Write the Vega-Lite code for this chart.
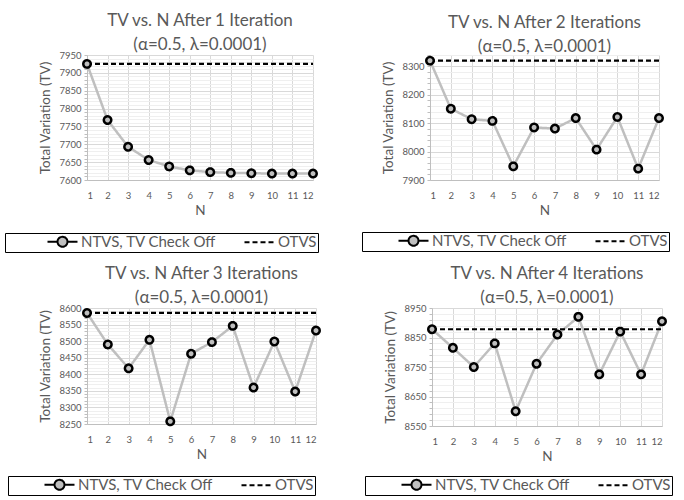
{
  "$schema": "https://vega.github.io/schema/vega-lite/v6.json",
  "background": "white",
  "padding": {"left": 4, "top": 12, "right": 5, "bottom": 1},
  "spacing": 12,
  "resolve": {"scale": {"strokeDash": "independent"}},
  "config": {
    "font": "Lato",
    "view": {"stroke": null},
    "concat": {"spacing": 39},
    "title": {"fontSize": 17, "fontWeight": "normal", "color": "#595959", "lineHeight": 24, "offset": -4},
    "axis": {
      "labelFontSize": 9.5, "labelColor": "#595959", "titleFontSize": 13.5, "titleFontWeight": "normal",
      "titleColor": "#595959", "domainColor": "#bfbfbf", "tickColor": "#bfbfbf", "domainWidth": 1
    },
    "legend": {"labelFontSize": 15, "labelColor": "#595959", "strokeColor": "#000000", "padding": 1,
               "orient": "none", "direction": "horizontal", "titleOrient": "left", "titleFontSize": 2,
               "symbolSize": 144, "labelOffset": 20, "columnPadding": 23,
               "symbolStrokeColor": "#000000", "symbolStrokeWidth": 2}
  },
  "datasets": {
    "p1": [
      {"N": 1, "TV": 7925, "series": "NTVS, TV Check Off"}, {"N": 2, "TV": 7768, "series": "NTVS, TV Check Off"},
      {"N": 3, "TV": 7693, "series": "NTVS, TV Check Off"}, {"N": 4, "TV": 7656, "series": "NTVS, TV Check Off"},
      {"N": 5, "TV": 7638, "series": "NTVS, TV Check Off"}, {"N": 6, "TV": 7627, "series": "NTVS, TV Check Off"},
      {"N": 7, "TV": 7622, "series": "NTVS, TV Check Off"}, {"N": 8, "TV": 7620, "series": "NTVS, TV Check Off"},
      {"N": 9, "TV": 7619, "series": "NTVS, TV Check Off"}, {"N": 10, "TV": 7618, "series": "NTVS, TV Check Off"},
      {"N": 11, "TV": 7618, "series": "NTVS, TV Check Off"}, {"N": 12, "TV": 7618, "series": "NTVS, TV Check Off"},
      {"N": 1, "TV": 7925, "series": "OTVS"}, {"N": 12, "TV": 7925, "series": "OTVS"}
    ],
    "p2": [
      {"N": 1, "TV": 8320, "series": "NTVS, TV Check Off"}, {"N": 2, "TV": 8151, "series": "NTVS, TV Check Off"},
      {"N": 3, "TV": 8114, "series": "NTVS, TV Check Off"}, {"N": 4, "TV": 8108, "series": "NTVS, TV Check Off"},
      {"N": 5, "TV": 7948, "series": "NTVS, TV Check Off"}, {"N": 6, "TV": 8085, "series": "NTVS, TV Check Off"},
      {"N": 7, "TV": 8081, "series": "NTVS, TV Check Off"}, {"N": 8, "TV": 8118, "series": "NTVS, TV Check Off"},
      {"N": 9, "TV": 8007, "series": "NTVS, TV Check Off"}, {"N": 10, "TV": 8122, "series": "NTVS, TV Check Off"},
      {"N": 11, "TV": 7940, "series": "NTVS, TV Check Off"}, {"N": 12, "TV": 8118, "series": "NTVS, TV Check Off"},
      {"N": 1, "TV": 8320, "series": "OTVS"}, {"N": 12, "TV": 8320, "series": "OTVS"}
    ],
    "p3": [
      {"N": 1, "TV": 8585, "series": "NTVS, TV Check Off"}, {"N": 2, "TV": 8490, "series": "NTVS, TV Check Off"},
      {"N": 3, "TV": 8418, "series": "NTVS, TV Check Off"}, {"N": 4, "TV": 8504, "series": "NTVS, TV Check Off"},
      {"N": 5, "TV": 8258, "series": "NTVS, TV Check Off"}, {"N": 6, "TV": 8462, "series": "NTVS, TV Check Off"},
      {"N": 7, "TV": 8497, "series": "NTVS, TV Check Off"}, {"N": 8, "TV": 8546, "series": "NTVS, TV Check Off"},
      {"N": 9, "TV": 8360, "series": "NTVS, TV Check Off"}, {"N": 10, "TV": 8499, "series": "NTVS, TV Check Off"},
      {"N": 11, "TV": 8348, "series": "NTVS, TV Check Off"}, {"N": 12, "TV": 8532, "series": "NTVS, TV Check Off"},
      {"N": 1, "TV": 8585, "series": "OTVS"}, {"N": 12, "TV": 8585, "series": "OTVS"}
    ],
    "p4": [
      {"N": 1, "TV": 8878, "series": "NTVS, TV Check Off"}, {"N": 2, "TV": 8815, "series": "NTVS, TV Check Off"},
      {"N": 3, "TV": 8750, "series": "NTVS, TV Check Off"}, {"N": 4, "TV": 8830, "series": "NTVS, TV Check Off"},
      {"N": 5, "TV": 8600, "series": "NTVS, TV Check Off"}, {"N": 6, "TV": 8761, "series": "NTVS, TV Check Off"},
      {"N": 7, "TV": 8860, "series": "NTVS, TV Check Off"}, {"N": 8, "TV": 8920, "series": "NTVS, TV Check Off"},
      {"N": 9, "TV": 8725, "series": "NTVS, TV Check Off"}, {"N": 10, "TV": 8870, "series": "NTVS, TV Check Off"},
      {"N": 11, "TV": 8725, "series": "NTVS, TV Check Off"}, {"N": 12, "TV": 8905, "series": "NTVS, TV Check Off"},
      {"N": 1, "TV": 8878, "series": "OTVS"}, {"N": 12, "TV": 8878, "series": "OTVS"}
    ]
  },
  "vconcat": [
    {
      "resolve": {"scale": {"strokeDash": "independent"}},
      "hconcat": [
        {
          "title": {"text": ["TV vs. N After 1 Iteration", "(α=0.5, λ=0.0001)"]},
          "width": 226, "height": 125,
          "data": {"name": "p1"},
          "encoding": {
            "x": {"field": "N", "type": "quantitative", "scale": {"domain": [1, 12], "nice": false},
                  "axis": {"values": [1,2,3,4,5,6,7,8,9,10,11,12], "title": "N", "grid": true, "gridColor": "#d9d9d9", "ticks": false, "labelPadding": 10, "titlePadding": 4}},
            "y": {"field": "TV", "type": "quantitative", "scale": {"domain": [7600, 7950], "nice": false, "zero": false},
                  "axis": {"tickCount": 35, "title": "Total Variation (TV)", "labelExpr": "datum.value % 50 === 0 ? datum.label : ''", "format": "d", "tickSize": 3,
                           "gridColor": {"condition": {"test": "datum.value % 50 === 0", "value": "#d9d9d9"}, "value": "#efefef"}, "labelPadding": 3, "titlePadding": 6}},
            "strokeDash": {"field": "series", "type": "nominal", "scale": {"domain": ["NTVS, TV Check Off", "OTVS"], "range": [[1, 0], [5, 3]]},
                           "legend": {"title": " ", "titlePadding": 40, "legendX": -82, "legendY": 178,
                                      "labelExpr": "datum.label === 'OTVS' ? 'OTVS        ' : datum.label",
                                      "encode": {"symbols": {"update": {
                                        "shape": {"signal": "datum.value === 'OTVS' ? 'M-1,0H4' : 'M-1,0H0.67M2.33,0H4M2.33,0A0.83,0.83 0 1 1 0.67,0A0.83,0.83 0 1 1 2.33,0'"},
                                        "fill": {"signal": "datum.value === 'OTVS' ? 'transparent' : '#bfbfbf'"},
                                        "stroke": {"signal": "'#000000'"}}}}}}
          },
          "layer": [
            {"transform": [{"filter": "datum.series !== 'OTVS'"}], "mark": {"type": "line", "strokeWidth": 2.5, "color": "#bfbfbf"}},
            {"transform": [{"filter": "datum.series === 'OTVS'"}], "mark": {"type": "line", "strokeWidth": 2.2, "color": "#000000"}},
            {"transform": [{"filter": "datum.series !== 'OTVS'"}],
             "mark": {"type": "point", "filled": true, "fill": "#bfbfbf", "stroke": "#000000", "strokeWidth": 2.5, "size": 55, "opacity": 1},
             "encoding": {"strokeDash": {"value": [1, 0]}}}
          ]
        },
        {
          "title": {"text": ["TV vs. N After 2 Iterations", "(α=0.5, λ=0.0001)"]},
          "width": 229, "height": 125,
          "data": {"name": "p2"},
          "encoding": {
            "x": {"field": "N", "type": "quantitative", "scale": {"domain": [1, 12], "nice": false},
                  "axis": {"values": [1,2,3,4,5,6,7,8,9,10,11,12], "title": "N", "grid": true, "gridColor": "#d9d9d9", "ticks": false, "labelPadding": 10, "titlePadding": 4}},
            "y": {"field": "TV", "type": "quantitative", "scale": {"domain": [7900, 8340], "nice": false, "zero": false},
                  "axis": {"tickCount": 22, "title": "Total Variation (TV)", "labelExpr": "datum.value % 100 === 0 ? datum.label : ''", "format": "d", "tickSize": 3,
                           "gridColor": {"condition": {"test": "datum.value % 100 === 0", "value": "#d9d9d9"}, "value": "#efefef"}, "labelPadding": 3, "titlePadding": 6}},
            "strokeDash": {"field": "series", "type": "nominal", "scale": {"domain": ["NTVS, TV Check Off", "OTVS"], "range": [[1, 0], [5, 3]]},
                           "legend": {"title": " ", "titlePadding": 34, "legendX": -68, "legendY": 177,
                                      "labelExpr": "datum.label === 'OTVS' ? 'OTVS         ' : datum.label",
                                      "encode": {"symbols": {"update": {
                                        "shape": {"signal": "datum.value === 'OTVS' ? 'M-1,0H4' : 'M-1,0H0.67M2.33,0H4M2.33,0A0.83,0.83 0 1 1 0.67,0A0.83,0.83 0 1 1 2.33,0'"},
                                        "fill": {"signal": "datum.value === 'OTVS' ? 'transparent' : '#bfbfbf'"},
                                        "stroke": {"signal": "'#000000'"}}}}}}
          },
          "layer": [
            {"transform": [{"filter": "datum.series !== 'OTVS'"}], "mark": {"type": "line", "strokeWidth": 2.5, "color": "#bfbfbf"}},
            {"transform": [{"filter": "datum.series === 'OTVS'"}], "mark": {"type": "line", "strokeWidth": 2.2, "color": "#000000"}},
            {"transform": [{"filter": "datum.series !== 'OTVS'"}],
             "mark": {"type": "point", "filled": true, "fill": "#bfbfbf", "stroke": "#000000", "strokeWidth": 2.5, "size": 55, "opacity": 1},
             "encoding": {"strokeDash": {"value": [1, 0]}}}
          ]
        }
      ]
    },
    {
      "resolve": {"scale": {"strokeDash": "independent"}},
      "hconcat": [
        {
          "title": {"text": ["TV vs. N After 3 Iterations", "(α=0.5, λ=0.0001)"]},
          "width": 229, "height": 116,
          "data": {"name": "p3"},
          "encoding": {
            "x": {"field": "N", "type": "quantitative", "scale": {"domain": [1, 12], "nice": false},
                  "axis": {"values": [1,2,3,4,5,6,7,8,9,10,11,12], "title": "N", "grid": true, "gridColor": "#d9d9d9", "ticks": false, "labelPadding": 10, "titlePadding": 4}},
            "y": {"field": "TV", "type": "quantitative", "scale": {"domain": [8250, 8600], "nice": false, "zero": false},
                  "axis": {"tickCount": 35, "title": "Total Variation (TV)", "labelExpr": "datum.value % 50 === 0 ? datum.label : ''", "format": "d", "tickSize": 3,
                           "gridColor": {"condition": {"test": "datum.value % 50 === 0", "value": "#d9d9d9"}, "value": "#efefef"}, "labelPadding": 3, "titlePadding": 6}},
            "strokeDash": {"field": "series", "type": "nominal", "scale": {"domain": ["NTVS, TV Check Off", "OTVS"], "range": [[1, 0], [5, 3]]},
                           "legend": {"title": " ", "titlePadding": 34, "legendX": -79, "legendY": 168,
                                      "labelExpr": "datum.label === 'OTVS' ? 'OTVS         ' : datum.label",
                                      "encode": {"symbols": {"update": {
                                        "shape": {"signal": "datum.value === 'OTVS' ? 'M-1,0H4' : 'M-1,0H0.67M2.33,0H4M2.33,0A0.83,0.83 0 1 1 0.67,0A0.83,0.83 0 1 1 2.33,0'"},
                                        "fill": {"signal": "datum.value === 'OTVS' ? 'transparent' : '#bfbfbf'"},
                                        "stroke": {"signal": "'#000000'"}}}}}}
          },
          "layer": [
            {"transform": [{"filter": "datum.series !== 'OTVS'"}], "mark": {"type": "line", "strokeWidth": 2.5, "color": "#bfbfbf"}},
            {"transform": [{"filter": "datum.series === 'OTVS'"}], "mark": {"type": "line", "strokeWidth": 2.2, "color": "#000000"}},
            {"transform": [{"filter": "datum.series !== 'OTVS'"}],
             "mark": {"type": "point", "filled": true, "fill": "#bfbfbf", "stroke": "#000000", "strokeWidth": 2.5, "size": 55, "opacity": 1},
             "encoding": {"strokeDash": {"value": [1, 0]}}}
          ]
        },
        {
          "title": {"text": ["TV vs. N After 4 Iterations", "(α=0.5, λ=0.0001)"]},
          "width": 230, "height": 118,
          "data": {"name": "p4"},
          "encoding": {
            "x": {"field": "N", "type": "quantitative", "scale": {"domain": [1, 12], "nice": false},
                  "axis": {"values": [1,2,3,4,5,6,7,8,9,10,11,12], "title": "N", "grid": true, "gridColor": "#d9d9d9", "ticks": false, "labelPadding": 10, "titlePadding": 4}},
            "y": {"field": "TV", "type": "quantitative", "scale": {"domain": [8550, 8950], "nice": false, "zero": false},
                  "axis": {"values": [8550,8570,8590,8610,8630,8650,8670,8690,8710,8730,8750,8770,8790,8810,8830,8850,8870,8890,8910,8930,8950],
                           "title": "Total Variation (TV)", "labelExpr": "datum.value % 100 === 50 ? datum.label : ''", "format": "d", "tickSize": 3,
                           "gridColor": {"condition": {"test": "datum.value % 100 === 50", "value": "#d9d9d9"}, "value": "#efefef"}, "labelPadding": 3, "titlePadding": 6}},
            "strokeDash": {"field": "series", "type": "nominal", "scale": {"domain": ["NTVS, TV Check Off", "OTVS"], "range": [[1, 0], [5, 3]]},
                           "legend": {"title": " ", "titlePadding": 34, "legendX": -67, "legendY": 168,
                                      "labelExpr": "datum.label === 'OTVS' ? 'OTVS         ' : datum.label",
                                      "encode": {"symbols": {"update": {
                                        "shape": {"signal": "datum.value === 'OTVS' ? 'M-1,0H4' : 'M-1,0H0.67M2.33,0H4M2.33,0A0.83,0.83 0 1 1 0.67,0A0.83,0.83 0 1 1 2.33,0'"},
                                        "fill": {"signal": "datum.value === 'OTVS' ? 'transparent' : '#bfbfbf'"},
                                        "stroke": {"signal": "'#000000'"}}}}}}
          },
          "layer": [
            {"transform": [{"filter": "datum.series !== 'OTVS'"}], "mark": {"type": "line", "strokeWidth": 2.5, "color": "#bfbfbf"}},
            {"transform": [{"filter": "datum.series === 'OTVS'"}], "mark": {"type": "line", "strokeWidth": 2.2, "color": "#000000"}},
            {"transform": [{"filter": "datum.series !== 'OTVS'"}],
             "mark": {"type": "point", "filled": true, "fill": "#bfbfbf", "stroke": "#000000", "strokeWidth": 2.5, "size": 55, "opacity": 1},
             "encoding": {"strokeDash": {"value": [1, 0]}}}
          ]
        }
      ]
    }
  ]
}
